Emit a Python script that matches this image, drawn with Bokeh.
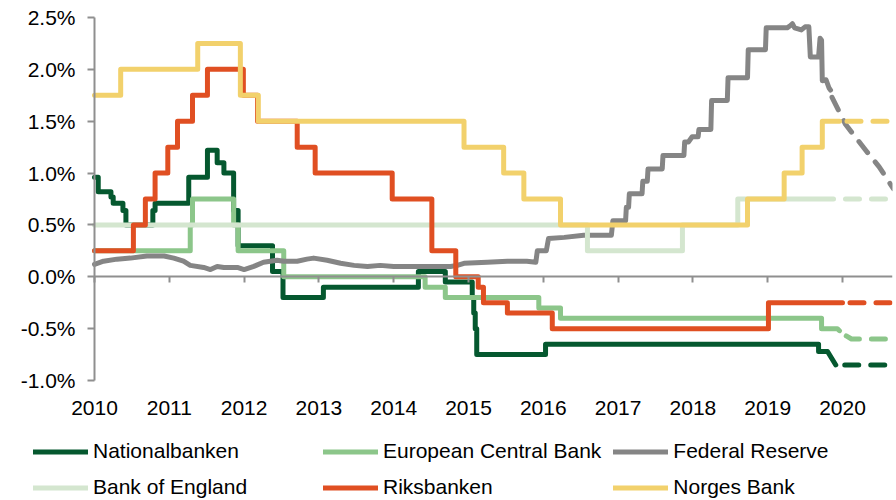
from bokeh.plotting import figure
from bokeh.models import (Range1d, LinearAxis, FixedTicker, Legend, LegendItem)
from bokeh.core.properties import value
from bokeh.embed import file_html
from bokeh.resources import INLINE

FONT = "Liberation Sans"
GRAY_AX = "#8f8f8f"

# ---------------- data (policy rates, %) ----------------
years = [2010, 2011, 2012, 2013, 2014, 2015, 2016, 2017, 2018, 2019, 2020]
year_labels = ["2010", "2011", "2012", "2013", "2014", "2015", "2016", "2017",
               "2018", "2019", "2020"]
y_ticks = [-1.0, -0.5, 0.0, 0.5, 1.0, 1.5, 2.0, 2.5]
y_labels = ["-1.0%", "-0.5%", "0.0%", "0.5%", "1.0%", "1.5%", "2.0%", "2.5%"]

# Nationalbanken (change dates / values)
nat_dates = [2010.0, 2010.05, 2010.22, 2010.25, 2010.38, 2010.42, 2010.78, 2010.81,
             2011.26, 2011.51, 2011.64, 2011.73, 2011.86, 2011.92, 2012.38, 2012.52,
             2013.06, 2014.33, 2014.69, 2015.05, 2015.07, 2015.09, 2015.11, 2016.03,
             2019.68]
nat_values = [0.96, 0.82, 0.77, 0.71, 0.64, 0.50, 0.64, 0.71,
              0.96, 1.22, 1.10, 1.00, 0.64, 0.30, 0.05, -0.20,
              -0.10, 0.05, -0.05, -0.20, -0.35, -0.50, -0.75, -0.65,
              -0.72]
nat_end = 2019.80
nat_tail_x = [2019.91]
nat_tail_y = [-0.85]
nat_fc_x = [2020.03, 2020.62]
nat_fc_y = [-0.85, -0.85]

# European Central Bank
ecb_dates = [2010.0, 2011.28, 2011.31, 2011.86, 2011.92, 2012.53, 2014.42, 2014.69,
             2015.94, 2016.23, 2019.72]
ecb_values = [0.25, 0.50, 0.75, 0.50, 0.25, 0.00, -0.10, -0.20,
              -0.30, -0.40, -0.50]
ecb_end = 2019.93
ecb_tail_x = [2019.96]
ecb_tail_y = [-0.52]
ecb_fc_x = [2020.05, 2020.12, 2020.67]
ecb_fc_y = [-0.57, -0.60, -0.60]

# Federal Reserve (effective rate)
fed_x = [2010.0, 2010.12, 2010.30, 2010.48, 2010.70, 2010.93, 2011.06, 2011.19, 2011.28,
         2011.46, 2011.55, 2011.64, 2011.73, 2011.91, 2012.0, 2012.13, 2012.26, 2012.44,
         2012.53, 2012.71, 2012.84, 2012.93, 2013.11, 2013.29, 2013.47, 2013.65, 2013.82,
         2014.0, 2014.27, 2014.53, 2014.76, 2014.85, 2014.94, 2015.25, 2015.52, 2015.78,
         2015.90, 2015.92, 2016.04, 2016.07, 2016.28, 2016.54, 2016.91, 2016.93, 2017.10,
         2017.11, 2017.14, 2017.15, 2017.32, 2017.33, 2017.39, 2017.40, 2017.59, 2017.60,
         2017.88, 2017.89, 2017.94, 2017.99, 2018.07, 2018.08, 2018.24, 2018.25, 2018.46,
         2018.47, 2018.73, 2018.74, 2018.97, 2018.98, 2019.26, 2019.30, 2019.33, 2019.36,
         2019.45, 2019.50, 2019.55, 2019.57, 2019.68, 2019.70, 2019.72, 2019.73, 2019.78,
         2019.82, 2019.84]
fed_y = [0.12, 0.15, 0.17, 0.18, 0.20, 0.20, 0.18, 0.15, 0.11,
         0.09, 0.07, 0.10, 0.09, 0.09, 0.07, 0.10, 0.14, 0.16,
         0.15, 0.15, 0.17, 0.18, 0.16, 0.13, 0.11, 0.10, 0.11,
         0.10, 0.10, 0.10, 0.10, 0.11, 0.13, 0.14, 0.15, 0.15,
         0.14, 0.25, 0.25, 0.37, 0.38, 0.40, 0.40, 0.54, 0.54,
         0.67, 0.67, 0.80, 0.80, 0.92, 0.92, 1.04, 1.04, 1.17,
         1.17, 1.30, 1.30, 1.35, 1.35, 1.42, 1.42, 1.70, 1.70,
         1.92, 1.92, 2.19, 2.19, 2.40, 2.40, 2.42, 2.44, 2.40,
         2.38, 2.41, 2.41, 2.12, 2.12, 2.30, 2.28, 1.89, 1.90,
         1.82, 1.80]
fed_fc_x = [2019.86, 2020.04, 2020.31, 2020.49, 2020.68]
fed_fc_y = [1.73, 1.47, 1.22, 1.06, 0.85]

# Bank of England
boe_dates = [2010.0, 2016.59, 2017.86, 2018.60]
boe_values = [0.50, 0.25, 0.50, 0.75]
boe_end = 2019.88
boe_fc_x = [2020.04, 2020.67]
boe_fc_y = [0.75, 0.75]

# Riksbanken
rb_dates = [2010.0, 2010.52, 2010.68, 2010.81, 2010.98, 2011.11, 2011.31, 2011.51,
            2011.99, 2012.18, 2012.71, 2012.95, 2013.98, 2014.51, 2014.83, 2015.13,
            2015.20, 2015.52, 2016.12, 2019.01]
rb_values = [0.25, 0.50, 0.75, 1.00, 1.25, 1.50, 1.75, 2.00,
             1.75, 1.50, 1.25, 1.00, 0.75, 0.25, 0.00, -0.10,
             -0.25, -0.35, -0.50, -0.25]
rb_end = 2020.0
rb_fc_x = [2020.10, 2020.67]
rb_fc_y = [-0.25, -0.25]

# Norges Bank
nb_dates = [2010.0, 2010.35, 2011.38, 2011.95, 2012.19, 2014.94, 2015.47, 2015.74,
            2016.23, 2018.73, 2019.22, 2019.46, 2019.73]
nb_values = [1.75, 2.00, 2.25, 1.75, 1.50, 1.25, 1.00, 0.75,
             0.50, 0.75, 1.00, 1.25, 1.50]
nb_end = 2019.96
nb_fc_x = [2020.06, 2020.67]
nb_fc_y = [1.50, 1.50]

names = ["Nationalbanken", "European Central Bank", "Federal Reserve",
         "Bank of England", "Riksbanken", "Norges Bank"]
colors = ["#05582f", "#8cc68a", "#858585", "#d4e6cf", "#e04f22", "#f2d16c"]


def steps(dates, values, end, tail_x=(), tail_y=()):
    xs, ys = [], []
    for i, (d, v) in enumerate(zip(dates, values)):
        nxt = dates[i + 1] if i + 1 < len(dates) else end
        xs += [d, nxt]
        ys += [v, v]
    return xs + list(tail_x), ys + list(tail_y)


solid = [
    steps(nat_dates, nat_values, nat_end, nat_tail_x, nat_tail_y),
    steps(ecb_dates, ecb_values, ecb_end, ecb_tail_x, ecb_tail_y),
    (fed_x, fed_y),
    steps(boe_dates, boe_values, boe_end),
    steps(rb_dates, rb_values, rb_end),
    steps(nb_dates, nb_values, nb_end),
]
forecast = [(nat_fc_x, nat_fc_y), (ecb_fc_x, ecb_fc_y), (fed_fc_x, fed_fc_y),
            (boe_fc_x, boe_fc_y), (rb_fc_x, rb_fc_y), (nb_fc_x, nb_fc_y)]

# ---------------- figure ----------------
# frame covers (almost) the whole canvas; 2010 sits 94 px from the left,
# 74.8 px per year, 103.7 px per percentage point (2.5% at 17 px from the top)
p = figure(width=896, height=500,
           x_range=Range1d(2008.7433, 2020.6684), y_range=Range1d(-2.157, 2.6253),
           x_axis_type=None, y_axis_type=None,
           output_backend="svg", toolbar_location=None,
           min_border_left=0, min_border_right=4,
           min_border_top=4, min_border_bottom=0)
p.outline_line_color = None
p.background_fill_color = "white"
p.border_fill_color = "white"

# vertical axis line + ticks (ticks pointing left, at x = 2010)
yline = LinearAxis(fixed_location=2010, bounds=(-1.0, 2.5),
                   ticker=FixedTicker(ticks=y_ticks),
                   axis_line_color=GRAY_AX, axis_line_width=2,
                   major_tick_line_color=GRAY_AX, major_tick_line_width=2,
                   major_tick_in=7, major_tick_out=0,
                   minor_tick_in=0, minor_tick_out=0,
                   major_label_standoff=0, major_label_text_font_size="0px",
                   major_label_text_alpha=0)
p.add_layout(yline, "right")

# horizontal axis line at 0 with ticks pointing down
xzero = LinearAxis(fixed_location=0, bounds=(2010, 2020.7),
                   ticker=FixedTicker(ticks=years),
                   axis_line_color=GRAY_AX, axis_line_width=2,
                   major_tick_line_color=GRAY_AX, major_tick_line_width=2,
                   major_tick_in=6, major_tick_out=0,
                   minor_tick_in=0, minor_tick_out=0,
                   major_label_standoff=0, major_label_text_font_size="0px",
                   major_label_text_alpha=0)
p.add_layout(xzero, "above")

# tick labels
p.text(x=[2010] * len(y_ticks), y=y_ticks, text=y_labels,
       x_offset=-19, text_align="right", text_baseline="middle",
       text_font=value(FONT), text_font_size="21px", text_color="black")
p.text(x=years, y=[-1.0] * len(years), text=year_labels,
       y_offset=27, text_align="center", text_baseline="middle",
       text_font=value(FONT), text_font_size="21px", text_color="black")

items = []
for name, col, (sx, sy), (fx, fy) in zip(names, colors, solid, forecast):
    r = p.line(sx, sy, line_color=col, line_width=5,
               line_cap="round", line_join="round")
    p.line(fx, fy, line_color=col, line_width=5, line_dash="14 12",
           line_cap="round", line_join="round")
    items.append(LegendItem(label=name, renderers=[r]))

legend = Legend(items=items, location=(33, 1),
                orientation="horizontal", ncols=3,
                glyph_width=55, glyph_height=23,
                label_height=23, label_width=218, label_standoff=5,
                spacing=12, padding=0, margin=0,
                border_line_color=None, background_fill_alpha=0,
                label_text_font=FONT, label_text_font_size="21px",
                label_text_color="black")
p.add_layout(legend)

open("out.html", "w").write(file_html(p, INLINE))
